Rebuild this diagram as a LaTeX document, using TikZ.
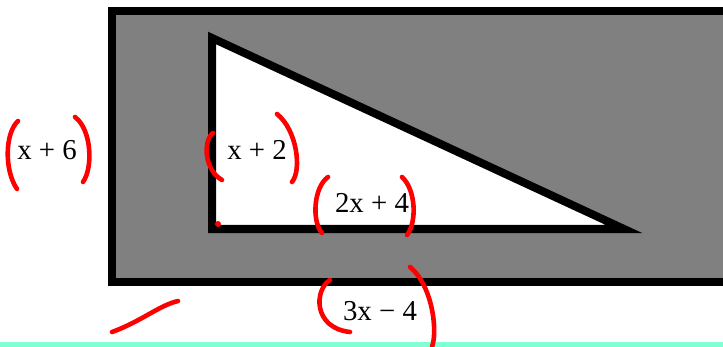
\documentclass[tikz,border=0pt]{standalone}
\usepackage{fontspec}
\setmainfont{Liberation Serif}
\definecolor{penred}{RGB}{255,0,0}
\definecolor{boardgray}{RGB}{128,128,128}
\definecolor{stripcyan}{RGB}{127,255,212}

\begin{document}
\begin{tikzpicture}[x=0.025cm, y=-0.025cm,
    sidelabel/.style={font=\fontsize{20.5}{24}\selectfont, inner sep=0pt},
    thickedge/.style={draw=black, line width=0.2cm, line join=miter},
    penstroke/.style={draw=penred, line width=0.115cm, line cap=round}]
          \useasboundingbox (0,0) rectangle (723,347);
          \clip (0,0) rectangle (723,347);
          \fill[stripcyan] (0,342) rectangle (723,347);
          % outer board and the cut-out
          \draw[thickedge, fill=boardgray] (111.5,11.5) rectangle (760,282);
          \draw[thickedge, fill=white] (212,38) -- (212,229) -- (624,229) -- cycle;
          \node[sidelabel] (outerside) at (47,150) {x + 6};
          \node[sidelabel] (innerside) at (257,150) {x + 2};
          \node[sidelabel] (innerbase) at (372,203) {2x + 4};
          \node[sidelabel] (outerbase) at (380,311) {3x − 4};
          % hand-drawn brackets
          \draw[penstroke] (18,121) .. controls (5,133) and (4,170) .. (17,189);
          \draw[penstroke] (75,117) .. controls (92,130) and (93,168) .. (83,182);
          \draw[penstroke] (213,133) .. controls (203,140) and (204,170) .. (222,180);
          \draw[penstroke] (277,114) .. controls (297,130) and (302,170) .. (292,182);
          \draw[penstroke] (328,177) .. controls (313,188) and (312,222) .. (322,233);
          \draw[penstroke] (402,177) .. controls (416,190) and (417,222) .. (407,235);
          \draw[penstroke] (330,280) .. controls (314,290) and (313,328) .. (350,332);
          \draw[penstroke] (410,267) .. controls (432,285) and (438,330) .. (432,347);
          \draw[penstroke] (112,332) .. controls (140,322) and (160,305) .. (178,301);
          \fill[penred] (218,224) circle (3);
        \end{tikzpicture}
\end{document}
